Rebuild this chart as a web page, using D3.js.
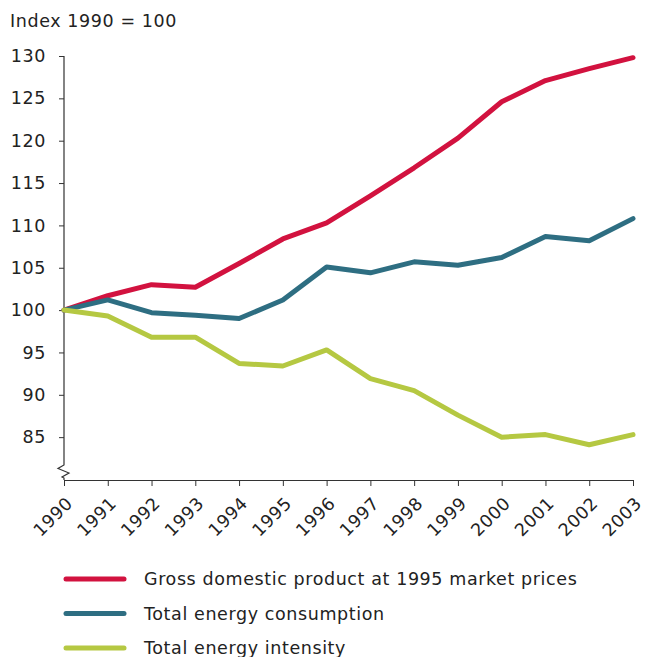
<!DOCTYPE html>
<html>
<head>
<meta charset="utf-8">
<script src="https://cdn.jsdelivr.net/npm/d3@7"></script>
<style>
  html, body { margin: 0; padding: 0; background: #fff; }
  svg { display: block; }
  text { font-family: "DejaVu Sans", Verdana, sans-serif; fill: #222; }
</style>
</head>
<body>
<svg id="chart" width="648" height="657"></svg>
<script>
const years = [1990, 1991, 1992, 1993, 1994, 1995, 1996, 1997, 1998, 1999, 2000, 2001, 2002, 2003];
const gdp = [100, 101.7, 103.0, 102.7, 105.5, 108.4, 110.3, 113.5, 116.8, 120.3, 124.6, 127.1, 128.5, 129.8];
const energyConsumption = [100, 101.2, 99.7, 99.4, 99.0, 101.2, 105.1, 104.4, 105.7, 105.3, 106.2, 108.7, 108.2, 110.8];
const energyIntensity = [100, 99.3, 96.8, 96.8, 93.7, 93.4, 95.3, 91.9, 90.5, 87.6, 85.0, 85.3, 84.1, 85.3];
const yTicks = [85, 90, 95, 100, 105, 110, 115, 120, 125, 130];
const seriesNames = ["Gross domestic product at 1995 market prices", "Total energy consumption", "Total energy intensity"];
const seriesColors = ["#D2123F", "#2E6E82", "#B5C842"];
const yTitle = "Index 1990 = 100";

const series = [gdp, energyConsumption, energyIntensity];
const svg = d3.select("#chart");
const fontSize = 17.5;
const ls = "0.6px";

const x = d3.scalePoint().domain(years).range([64, 633]);
const y = d3.scaleLinear().domain([80, 130]).range([479.5, 56]);

function styleText(sel) {
  sel.style("font-size", fontSize + "px").style("letter-spacing", ls)
     .attr("fill", "#222").style("font-family", '"DejaVu Sans", Verdana, sans-serif');
}

// y title
svg.append("text").attr("x", 10).attr("y", 27).call(styleText).text(yTitle);

// y axis
const yAxis = d3.axisLeft(y).tickValues(yTicks).tickSize(5).tickPadding(13);
const gy = svg.append("g").attr("transform", "translate(64,0)").call(yAxis);
gy.select(".domain").remove();
gy.selectAll(".tick line").attr("stroke", "#333");
gy.selectAll(".tick text").call(styleText);

// y axis line with break
svg.append("path")
  .attr("d", "M64,56 L64,465 L58,468.5 L69,473 L62,477 L64,478 L64,480")
  .attr("fill", "none").attr("stroke", "#333").attr("stroke-width", 1.2);

// x axis
const xAxis = d3.axisBottom(x).tickSize(6).tickSizeOuter(0);
const gx = svg.append("g").attr("transform", "translate(0,480)").call(xAxis);
gx.select(".domain").attr("stroke", "#333").attr("stroke-width", 1.2).attr("d", "M64,0.5H633");
gx.selectAll(".tick line").attr("stroke", "#333");
gx.selectAll(".tick text")
  .call(styleText)
  .attr("text-anchor", "end")
  .attr("dy", "0.35em")
  .attr("transform", "translate(5,20) rotate(-45)")
  .attr("y", 0).attr("x", 0);

// lines
const line = d3.line().x((d, i) => x(years[i])).y(d => y(d));
series.forEach((s, k) => {
  svg.append("path").datum(s)
    .attr("fill", "none").attr("stroke", seriesColors[k]).attr("stroke-width", 5)
    .attr("stroke-linejoin", "round").attr("stroke-linecap", "round")
    .attr("d", line);
});

// legend
const lg = svg.append("g");
seriesNames.forEach((n, k) => {
  const yy = 579 + k * 34.5;
  lg.append("line").attr("x1", 66).attr("x2", 124).attr("y1", yy).attr("y2", yy)
    .attr("stroke", seriesColors[k]).attr("stroke-width", 5).attr("stroke-linecap", "round");
  lg.append("text").attr("x", 144).attr("y", yy).attr("dy", "0.35em")
    .call(styleText).text(n);
});
</script>
</body>
</html>
